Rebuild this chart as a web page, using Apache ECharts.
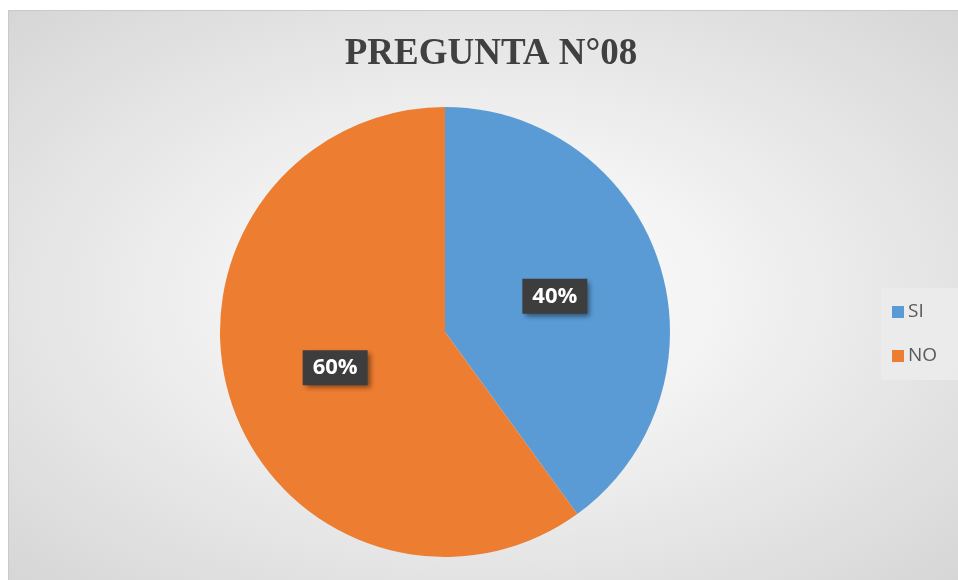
<!DOCTYPE html>
<html>
<head>
<meta charset="utf-8">
<script src="https://cdn.jsdelivr.net/npm/echarts@6/dist/echarts.min.js"></script>
<style>
html,body{margin:0;padding:0;background:#fff;}
#wrap{position:absolute;left:8px;top:10px;width:950px;height:570px;
 background:radial-gradient(ellipse at 50% 50%, #ffffff 0%, #f3f3f3 35%, #d6d6d6 100%);
 border-left:1px solid #c9c9c9;border-top:1px solid #c9c9c9;box-sizing:border-box;}
#chart{position:absolute;left:0;top:0;width:958px;height:580px;}
</style>
</head>
<body>
<div id="wrap"></div>
<div id="chart"></div>
<script>
const titleText = 'PREGUNTA N°08';
const categories = ['SI', 'NO'];
const values = [40, 60];
const colors = ['#5b9bd5', '#ed7d31'];

const chart = echarts.init(document.getElementById('chart'));
chart.setOption({
  backgroundColor: 'transparent',
  animation: false,
  title: {
    text: titleText,
    left: 486,
    top: 31,
    textAlign: 'center',
    textStyle: {fontFamily: 'Liberation Serif', fontWeight: 'bold', fontSize: 37, color: '#404040'}
  },
  legend: {
    orient: 'vertical',
    left: 881,
    top: 288,
    width: 74,
    padding: [12, 24, 12, 11],
    itemGap: 20,
    itemWidth: 12,
    itemHeight: 12,
    icon: 'rect',
    backgroundColor: 'rgba(235,235,235,0.9)',
    textStyle: {fontFamily: 'Open Sans', fontSize: 19, lineHeight: 24, color: '#595959', padding: [0,0,0,-1]},
    data: categories
  },
  series: [{
    type: 'pie',
    center: [445, 332],
    radius: [0, 225],
    startAngle: 90,
    clockwise: true,
    color: colors,
    itemStyle: {borderWidth: 0},
    labelLine: {show: false},
    label: {
      show: true,
      position: 'inside',
      formatter: p => p.value + '%',
      fontFamily: 'Open Sans',
      fontWeight: 'bold',
      fontSize: 22,
      color: '#ffffff',
      backgroundColor: '#3d3d3d',
      padding: [7, 10, 6, 10],
      shadowColor: 'rgba(0,0,0,0.45)',
      shadowBlur: 5,
      shadowOffsetX: 3,
      shadowOffsetY: 3
    },
    emphasis: {disabled: true},
    data: categories.map((c, i) => ({name: c, value: values[i]}))
  }]
});
</script>
</body>
</html>
